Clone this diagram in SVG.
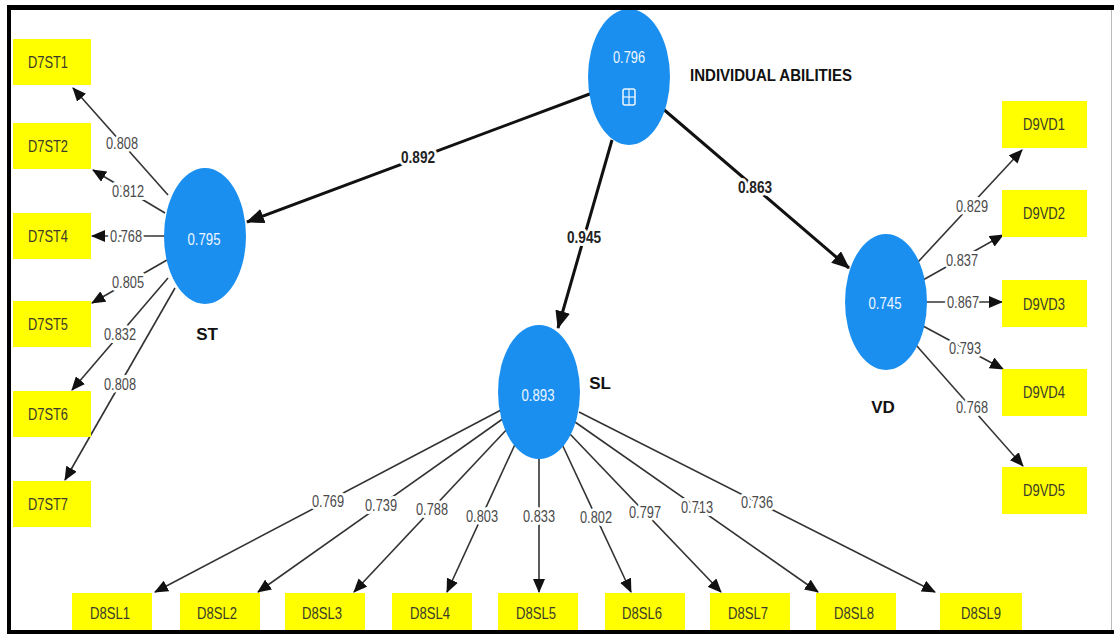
<svg xmlns="http://www.w3.org/2000/svg" width="1114" height="634" viewBox="0 0 1114 634">
<defs>
<style>
.lv{fill:#1a8ff0}
.ind{fill:#ffff00}
.it{font-family:"Liberation Sans Narrow","Liberation Sans",sans-serif;font-size:17px;fill:#3b3b2b;text-anchor:middle;dominant-baseline:central}
.lvt{font-family:"Liberation Sans Narrow","Liberation Sans",sans-serif;font-size:16px;fill:#eef6ff;text-anchor:middle;dominant-baseline:central}
.nm{font-family:"Liberation Sans Narrow","Liberation Sans",sans-serif;font-weight:bold;font-size:17px;fill:#111;text-anchor:middle;dominant-baseline:central}
.e{stroke:#333;stroke-width:1.6;fill:none;marker-end:url(#ah)}
.E{stroke:#111;stroke-width:3;fill:none;marker-end:url(#AH)}
.el{font-family:"Liberation Sans Narrow","Liberation Sans",sans-serif;font-size:16px;fill:#4a4a4a;text-anchor:middle;dominant-baseline:central;paint-order:stroke;stroke:#fff;stroke-width:6px;stroke-linejoin:round}
.EL{font-family:"Liberation Sans Narrow","Liberation Sans",sans-serif;font-size:16px;font-weight:bold;fill:#222;text-anchor:middle;dominant-baseline:central;paint-order:stroke;stroke:#fff;stroke-width:6px;stroke-linejoin:round}
</style>
<marker id="ah" markerUnits="userSpaceOnUse" markerWidth="14" markerHeight="12" refX="13" refY="6" orient="auto"><path d="M0,0 L14,6 L0,12 z" fill="#111"/></marker>
<marker id="AH" markerUnits="userSpaceOnUse" markerWidth="18" markerHeight="15" refX="17" refY="7.5" orient="auto"><path d="M0,0 L18,7.5 L0,15 z" fill="#111"/></marker>
</defs>
<rect x="0" y="0" width="1114" height="634" fill="#fff"/>

<g id="connectors">
  <!-- structural -->
  <line class="E" x1="595" y1="92" x2="247" y2="222"/>
  <line class="E" x1="612" y1="140" x2="558" y2="328"/>
  <line class="E" x1="662" y1="108" x2="849" y2="268"/>
  <text class="EL" x="418" y="157" textLength="34" lengthAdjust="spacingAndGlyphs">0.892</text>
  <text class="EL" x="584" y="237" textLength="34" lengthAdjust="spacingAndGlyphs">0.945</text>
  <text class="EL" x="755" y="187" textLength="34" lengthAdjust="spacingAndGlyphs">0.863</text>
  <!-- ST -->
  <line class="e" x1="168" y1="195" x2="73" y2="88"/>
  <line class="e" x1="165" y1="213" x2="93" y2="170"/>
  <line class="e" x1="165" y1="236" x2="92" y2="236"/>
  <line class="e" x1="167" y1="260" x2="92" y2="303"/>
  <line class="e" x1="168" y1="278" x2="72" y2="390"/>
  <line class="e" x1="175" y1="288" x2="65" y2="480"/>
  <text class="el" x="122" y="143" textLength="32" lengthAdjust="spacingAndGlyphs">0.808</text>
  <text class="el" x="128" y="191" textLength="32" lengthAdjust="spacingAndGlyphs">0.812</text>
  <text class="el" x="126" y="236" textLength="32" lengthAdjust="spacingAndGlyphs">0.768</text>
  <text class="el" x="128" y="282" textLength="32" lengthAdjust="spacingAndGlyphs">0.805</text>
  <text class="el" x="120" y="334" textLength="32" lengthAdjust="spacingAndGlyphs">0.832</text>
  <text class="el" x="120" y="384" textLength="32" lengthAdjust="spacingAndGlyphs">0.808</text>
  <!-- SL -->
  <line class="e" x1="501" y1="410" x2="155" y2="592"/>
  <line class="e" x1="504" y1="418" x2="258" y2="592"/>
  <line class="e" x1="509" y1="427" x2="354" y2="592"/>
  <line class="e" x1="517" y1="440" x2="447" y2="592"/>
  <line class="e" x1="539" y1="456" x2="539" y2="592"/>
  <line class="e" x1="561" y1="442" x2="631" y2="592"/>
  <line class="e" x1="569" y1="433" x2="721" y2="592"/>
  <line class="e" x1="575" y1="422" x2="818" y2="592"/>
  <line class="e" x1="579" y1="412" x2="935" y2="592"/>
  <text class="el" x="328" y="501" textLength="32" lengthAdjust="spacingAndGlyphs">0.769</text>
  <text class="el" x="381" y="505" textLength="32" lengthAdjust="spacingAndGlyphs">0.739</text>
  <text class="el" x="432" y="509" textLength="32" lengthAdjust="spacingAndGlyphs">0.788</text>
  <text class="el" x="482" y="516" textLength="32" lengthAdjust="spacingAndGlyphs">0.803</text>
  <text class="el" x="539" y="516" textLength="32" lengthAdjust="spacingAndGlyphs">0.833</text>
  <text class="el" x="596" y="517" textLength="32" lengthAdjust="spacingAndGlyphs">0.802</text>
  <text class="el" x="645" y="512" textLength="32" lengthAdjust="spacingAndGlyphs">0.797</text>
  <text class="el" x="697" y="507" textLength="32" lengthAdjust="spacingAndGlyphs">0.713</text>
  <text class="el" x="757" y="502" textLength="32" lengthAdjust="spacingAndGlyphs">0.736</text>
  <!-- VD -->
  <line class="e" x1="918" y1="262" x2="1022" y2="150"/>
  <line class="e" x1="923" y1="280" x2="1003" y2="235"/>
  <line class="e" x1="924" y1="302" x2="1002" y2="302"/>
  <line class="e" x1="923" y1="326" x2="1003" y2="369"/>
  <line class="e" x1="916" y1="345" x2="1023" y2="466"/>
  <text class="el" x="972" y="206" textLength="32" lengthAdjust="spacingAndGlyphs">0.829</text>
  <text class="el" x="962" y="260" textLength="32" lengthAdjust="spacingAndGlyphs">0.837</text>
  <text class="el" x="963" y="302" textLength="32" lengthAdjust="spacingAndGlyphs">0.867</text>
  <text class="el" x="965" y="348" textLength="32" lengthAdjust="spacingAndGlyphs">0.793</text>
  <text class="el" x="972" y="407" textLength="32" lengthAdjust="spacingAndGlyphs">0.768</text>
</g>

<g id="IA">
  <ellipse class="lv" cx="629" cy="77" rx="41" ry="68"/>
  <text class="lvt" x="629" y="57" textLength="32" lengthAdjust="spacingAndGlyphs">0.796</text>
  <rect x="623" y="89" width="12" height="16" rx="2" fill="none" stroke="#eef6ff" stroke-width="1.5"/>
  <line x1="629" y1="89" x2="629" y2="105" stroke="#eef6ff" stroke-width="1.2"/>
  <line x1="623" y1="97" x2="635" y2="97" stroke="#eef6ff" stroke-width="1.2"/>
  <text class="nm" x="771" y="75" textLength="162" lengthAdjust="spacingAndGlyphs">INDIVIDUAL ABILITIES</text>
</g>
<g id="ST">
  <ellipse class="lv" cx="205" cy="236" rx="41" ry="68"/>
  <text class="lvt" x="204" y="239" textLength="33" lengthAdjust="spacingAndGlyphs">0.795</text>
  <text class="nm" x="207" y="334">ST</text>
</g>
<g id="SL">
  <ellipse class="lv" cx="539" cy="392" rx="41" ry="67"/>
  <text class="lvt" x="538" y="395" textLength="33" lengthAdjust="spacingAndGlyphs">0.893</text>
  <text class="nm" x="600" y="383">SL</text>
</g>
<g id="VD">
  <ellipse class="lv" cx="886" cy="302" rx="41" ry="68"/>
  <text class="lvt" x="885" y="303" textLength="33" lengthAdjust="spacingAndGlyphs">0.745</text>
  <text class="nm" x="883" y="407">VD</text>
</g>

<g id="D7ST1"><rect class="ind" x="13" y="39" width="78" height="46"/><text class="it" x="48" y="62" textLength="40" lengthAdjust="spacingAndGlyphs">D7ST1</text></g>
<g id="D7ST2"><rect class="ind" x="13" y="123" width="78" height="46"/><text class="it" x="48" y="146" textLength="40" lengthAdjust="spacingAndGlyphs">D7ST2</text></g>
<g id="D7ST4"><rect class="ind" x="13" y="213" width="78" height="46"/><text class="it" x="48" y="236" textLength="40" lengthAdjust="spacingAndGlyphs">D7ST4</text></g>
<g id="D7ST5"><rect class="ind" x="13" y="301" width="78" height="46"/><text class="it" x="48" y="324" textLength="40" lengthAdjust="spacingAndGlyphs">D7ST5</text></g>
<g id="D7ST6"><rect class="ind" x="13" y="391" width="78" height="46"/><text class="it" x="48" y="414" textLength="40" lengthAdjust="spacingAndGlyphs">D7ST6</text></g>
<g id="D7ST7"><rect class="ind" x="13" y="481" width="78" height="46"/><text class="it" x="48" y="504" textLength="40" lengthAdjust="spacingAndGlyphs">D7ST7</text></g>

<g id="D9VD1"><rect class="ind" x="1002" y="101" width="85" height="47"/><text class="it" x="1044" y="124" textLength="42" lengthAdjust="spacingAndGlyphs">D9VD1</text></g>
<g id="D9VD2"><rect class="ind" x="1002" y="190" width="85" height="47"/><text class="it" x="1044" y="213" textLength="42" lengthAdjust="spacingAndGlyphs">D9VD2</text></g>
<g id="D9VD3"><rect class="ind" x="1002" y="280" width="85" height="47"/><text class="it" x="1044" y="304" textLength="42" lengthAdjust="spacingAndGlyphs">D9VD3</text></g>
<g id="D9VD4"><rect class="ind" x="1002" y="369" width="85" height="47"/><text class="it" x="1044" y="392" textLength="42" lengthAdjust="spacingAndGlyphs">D9VD4</text></g>
<g id="D9VD5"><rect class="ind" x="1002" y="467" width="85" height="47"/><text class="it" x="1044" y="490" textLength="42" lengthAdjust="spacingAndGlyphs">D9VD5</text></g>

<g id="D8SL1"><rect class="ind" x="72" y="593" width="80" height="45"/><text class="it" x="110" y="613" textLength="40" lengthAdjust="spacingAndGlyphs">D8SL1</text></g>
<g id="D8SL2"><rect class="ind" x="180" y="593" width="80" height="45"/><text class="it" x="217" y="613" textLength="40" lengthAdjust="spacingAndGlyphs">D8SL2</text></g>
<g id="D8SL3"><rect class="ind" x="285" y="593" width="80" height="45"/><text class="it" x="322" y="613" textLength="40" lengthAdjust="spacingAndGlyphs">D8SL3</text></g>
<g id="D8SL4"><rect class="ind" x="392" y="593" width="80" height="45"/><text class="it" x="430" y="613" textLength="40" lengthAdjust="spacingAndGlyphs">D8SL4</text></g>
<g id="D8SL5"><rect class="ind" x="498" y="593" width="80" height="45"/><text class="it" x="536" y="613" textLength="40" lengthAdjust="spacingAndGlyphs">D8SL5</text></g>
<g id="D8SL6"><rect class="ind" x="605" y="593" width="80" height="45"/><text class="it" x="642" y="613" textLength="40" lengthAdjust="spacingAndGlyphs">D8SL6</text></g>
<g id="D8SL7"><rect class="ind" x="710" y="593" width="80" height="45"/><text class="it" x="748" y="613" textLength="40" lengthAdjust="spacingAndGlyphs">D8SL7</text></g>
<g id="D8SL8"><rect class="ind" x="816" y="593" width="80" height="45"/><text class="it" x="854" y="613" textLength="40" lengthAdjust="spacingAndGlyphs">D8SL8</text></g>
<g id="D8SL9"><rect class="ind" x="940" y="593" width="82" height="45"/><text class="it" x="981" y="613" textLength="40" lengthAdjust="spacingAndGlyphs">D8SL9</text></g>

<g id="frame">
  <rect x="7" y="5" width="1107" height="5" fill="#000"/>
  <rect x="7" y="5" width="4" height="629" fill="#000"/>
  <rect x="7" y="630" width="1107" height="4" fill="#000"/>
  <line x1="1111.5" y1="10" x2="1111.5" y2="630" stroke="#bbb" stroke-width="1"/>
</g>
</svg>
